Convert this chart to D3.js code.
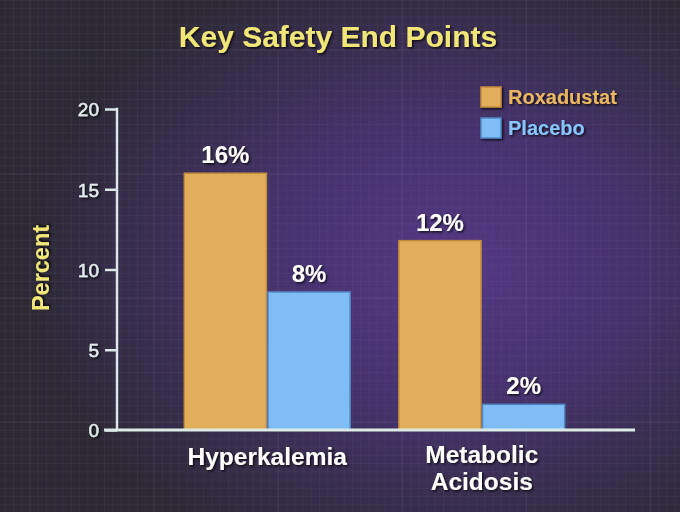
<!DOCTYPE html>
<html lang="en">
<head>
    <meta charset="UTF-8">
    <title>Key Safety End Points</title>
    <script src="https://d3js.org/d3.v7.min.js"></script>
    <style>
        body { margin: 0; background: #2b2832; }
        svg { display: block; font-family: "Liberation Sans", Arial, sans-serif; }
    </style>
</head>
<body>
    <svg width="680" height="512"></svg>

    <script>
        // Data
        const categories = [["Hyperkalemia"], ["Metabolic", "Acidosis"]];
        const seriesNames = ["Roxadustat", "Placebo"];
        const roxadustat = [16.0, 11.8];
        const placebo = [8.6, 1.6];
        const roxadustatLabels = ["16%", "12%"];
        const placeboLabels = ["8%", "2%"];
        const yTicks = [0, 5, 10, 15, 20];

        const fillColors = ["#e3ae5b", "#80bdf6"];
        const edgeColors = ["#c28a3e", "#4f86c2"];
        const legendText = ["#eab65e", "#86c4fa"];

        const W = 680, H = 512;
        const svg = d3.select("svg");
        const defs = svg.append("defs");

        // background gradient
        const grad = defs.append("radialGradient")
            .attr("id", "bg")
            .attr("cx", "0.66").attr("cy", "0.52").attr("r", "0.62");
        grad.append("stop").attr("offset", "0%").attr("stop-color", "#533884");
        grad.append("stop").attr("offset", "45%").attr("stop-color", "#45326b");
        grad.append("stop").attr("offset", "100%").attr("stop-color", "#2c2933");

        const shadow = defs.append("filter").attr("id", "shadow")
            .attr("x", "-20%").attr("y", "-20%").attr("width", "140%").attr("height", "140%");
        shadow.append("feDropShadow")
            .attr("dx", 1.5).attr("dy", 1.5).attr("stdDeviation", 1)
            .attr("flood-color", "#000").attr("flood-opacity", 0.75);

        svg.append("rect").attr("width", W).attr("height", H).attr("fill", "url(#bg)");

        // faint grid
        const grid = svg.append("g");
        const minor = 8.27;
        for (let i = 0; i * minor < W; i++) {
            const gx = 30 + (i - 4) * minor;
            grid.append("line").attr("x1", gx).attr("x2", gx).attr("y1", 0).attr("y2", H)
                .attr("stroke", (i - 4) % 15 === 0 ? "rgba(150,150,200,0.18)" : "rgba(130,130,180,0.1)")
                .attr("stroke-width", 1);
        }
        for (let i = 0; i * minor < H + 60; i++) {
            const gy = 50 + (i - 6) * minor;
            grid.append("line").attr("y1", gy).attr("y2", gy).attr("x1", 0).attr("x2", W)
                .attr("stroke", (i - 6) % 15 === 0 ? "rgba(150,150,200,0.18)" : "rgba(130,130,180,0.1)")
                .attr("stroke-width", 1);
        }

        // scales
        const x0 = d3.scaleBand()
            .domain(categories.map(d => d.join(" ")))
            .range([117, 632])
            .paddingInner(0.22)
            .paddingOuter(0.31);
        const x1 = d3.scaleBand()
            .domain(seriesNames)
            .range([0, x0.bandwidth()]);
        const y = d3.scaleLinear().domain([0, 20]).range([430, 109]);

        const rows = categories.map((c, i) => ({
            key: c.join(" "),
            lines: c,
            values: [
                { name: seriesNames[0], v: roxadustat[i], label: roxadustatLabels[i], s: 0 },
                { name: seriesNames[1], v: placebo[i], label: placeboLabels[i], s: 1 }
            ]
        }));

        // bars
        const groups = svg.append("g").selectAll("g")
            .data(rows).enter().append("g")
            .attr("transform", d => `translate(${x0(d.key)},0)`);

        groups.selectAll("rect")
            .data(d => d.values).enter().append("rect")
            .attr("x", d => x1(d.name) + 0.75)
            .attr("width", x1.bandwidth() - 1.5)
            .attr("y", d => y(d.v))
            .attr("height", d => y(0) - y(d.v))
            .attr("fill", d => fillColors[d.s])
            .attr("stroke", d => edgeColors[d.s])
            .attr("stroke-width", 1.5);

        groups.selectAll("text")
            .data(d => d.values).enter().append("text")
            .attr("x", d => x1(d.name) + x1.bandwidth() / 2)
            .attr("y", d => y(d.v) - 10)
            .attr("text-anchor", "middle")
            .attr("fill", "#ffffff")
            .attr("font-weight", "bold")
            .attr("font-size", 24)
            .attr("filter", "url(#shadow)")
            .text(d => d.label);

        // y axis
        const yAxis = svg.append("g")
            .attr("transform", "translate(117,0)")
            .call(d3.axisLeft(y).tickValues(yTicks).tickSize(12).tickSizeOuter(0).tickPadding(6));
        yAxis.select(".domain").remove();
        yAxis.selectAll(".tick line").attr("stroke", "#dbe7e6").attr("stroke-width", 2.5);
        yAxis.selectAll(".tick text")
            .attr("fill", "#e4eded")
            .attr("stroke", "#e4eded")
            .attr("stroke-width", 0.4)
            .attr("font-size", 19)
            .attr("font-family", "Liberation Sans, Arial, sans-serif")
            .attr("dy", "0.36em")
            .attr("filter", "url(#shadow)");
        svg.append("line")
            .attr("x1", 117).attr("x2", 117).attr("y1", y(20) - 1.25).attr("y2", y(0))
            .attr("stroke", "#dbe7e6").attr("stroke-width", 2.5);

        // x axis line
        svg.append("line")
            .attr("x1", 104).attr("x2", 635).attr("y1", y(0)).attr("y2", y(0))
            .attr("stroke", "#dcebe6").attr("stroke-width", 3);

        // category labels
        const catLabels = svg.append("g").selectAll("text")
            .data(rows).enter().append("text")
            .attr("x", d => x0(d.key) + x0.bandwidth() / 2)
            .attr("y", d => d.lines.length > 1 ? 463 : 465)
            .attr("text-anchor", "middle")
            .attr("fill", "#ffffff")
            .attr("font-weight", "bold")
            .attr("font-size", 24.5)
            .attr("filter", "url(#shadow)");
        catLabels.selectAll("tspan")
            .data(d => d.lines.map(t => ({ t, cx: x0(d.key) + x0.bandwidth() / 2 })))
            .enter().append("tspan")
            .attr("x", d => d.cx)
            .attr("dy", (d, i) => i === 0 ? 0 : 27)
            .text(d => d.t);

        // title
        svg.append("text")
            .attr("x", 338).attr("y", 47)
            .attr("text-anchor", "middle")
            .attr("fill", "#f1e678")
            .attr("font-weight", "bold")
            .attr("font-size", 30)
            .attr("filter", "url(#shadow)")
            .text("Key Safety End Points");

        // y axis title
        svg.append("text")
            .attr("transform", "translate(49,268) rotate(-90)")
            .attr("text-anchor", "middle")
            .attr("fill", "#f1e678")
            .attr("font-weight", "bold")
            .attr("font-size", 23.5)
            .attr("filter", "url(#shadow)")
            .text("Percent");

        // legend
        const legend = svg.append("g").attr("transform", "translate(481,87)");
        const li = legend.selectAll("g").data(seriesNames).enter().append("g")
            .attr("transform", (d, i) => `translate(0,${i * 31})`);
        li.append("rect")
            .attr("width", 20).attr("height", 20)
            .attr("fill", (d, i) => fillColors[i])
            .attr("stroke", (d, i) => edgeColors[i])
            .attr("stroke-width", 1.5)
            .attr("filter", "url(#shadow)");
        li.append("text")
            .attr("x", 27).attr("y", 17)
            .attr("fill", (d, i) => legendText[i])
            .attr("font-weight", "bold")
            .attr("font-size", 20)
            .attr("filter", "url(#shadow)")
            .text(d => d);
    </script>
</body>
</html>
